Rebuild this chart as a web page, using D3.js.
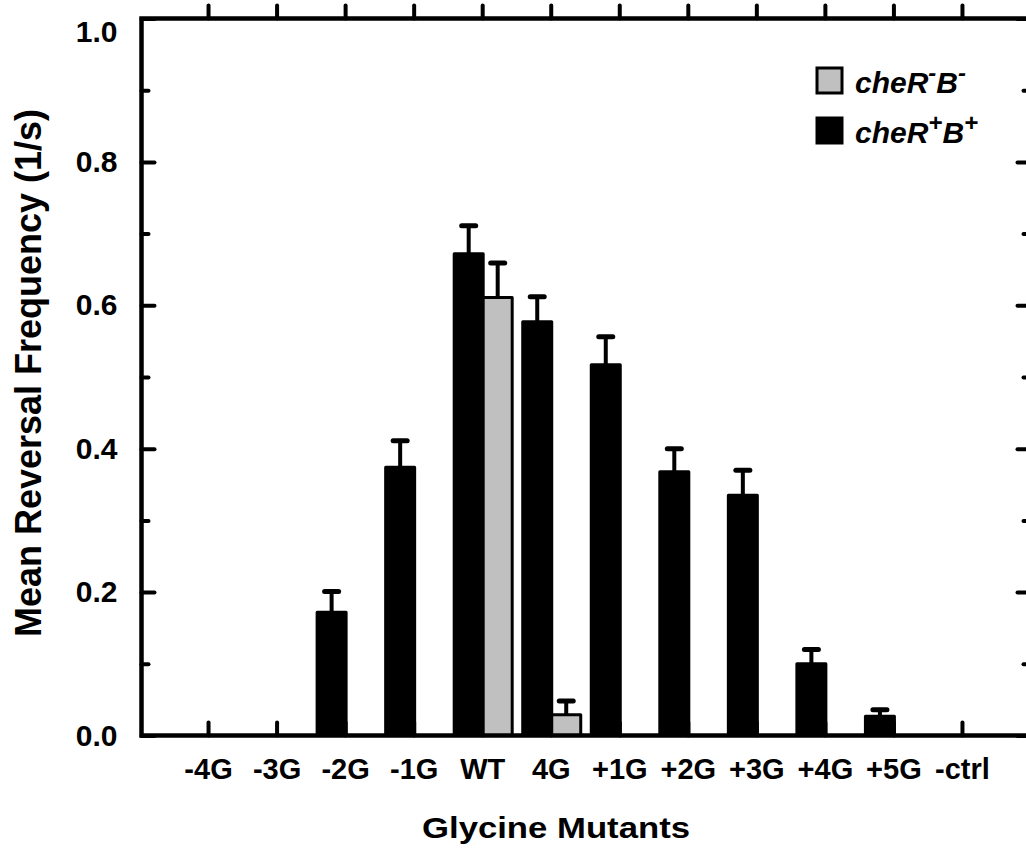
<!DOCTYPE html>
<html>
<head>
<meta charset="utf-8">
<script src="https://d3js.org/d3.v7.min.js"></script>
<style>
    body { margin: 0; background: #fff; }
    text { font-family: "Liberation Sans", Arial, sans-serif; font-weight: bold; }
</style>
</head>
<body>
<script>
// glycine mutants, two strains
const categories = ["-4G", "-3G", "-2G", "-1G", "WT", "4G", "+1G", "+2G", "+3G", "+4G", "+5G", "-ctrl"];

// cheR+B+ (black)
const plusValues = [null, null, 0.172, 0.374, 0.672, 0.577, 0.517, 0.368, 0.335, 0.100, 0.027, null];
const plusErrors = [null, null, 0.029, 0.037, 0.039, 0.035, 0.039, 0.032, 0.035, 0.020, 0.009, null];

// cheR-B- (gray)
const minusValues = [null, null, null, null, 0.611, 0.029, null, null, null, null, null, null];
const minusErrors = [null, null, null, null, 0.048, 0.019, null, null, null, null, null, null];

const seriesNames = ["plus", "minus"];
const seriesColor = {plus: "#000000", minus: "#c0c0c0"};

const yTicks = [0, 0.2, 0.4, 0.6, 0.8, 1.0];
const yMinorTicks = [0.1, 0.3, 0.5, 0.7, 0.9];

let width = 1026;
let height = 849;
let plotLeft = 141.5, plotRight = 1030.5, plotTop = 18.5, plotBottom = 735.5;

let svg = d3.select("body")
    .append("svg")
    .attr("width", width)
    .attr("height", height);

let x = d3.scalePoint()
    .domain(categories)
    .range([plotLeft - 2, plotRight])
    .padding(1);

let xSeries = d3.scaleBand()
    .domain(seriesNames)
    .range([-28, 30]);

let y = d3.scaleLinear()
    .domain([0, 1])
    .range([plotBottom, plotTop]);

function styleTicks(g) {
    g.select(".domain").remove();
    g.selectAll(".tick line")
        .attr("stroke", "#000")
        .attr("stroke-width", 4)
        .attr("stroke-linecap", "round");
}

// left axis, ticks point inwards
svg.append("g")
    .attr("transform", "translate(" + plotLeft + ",0)")
    .call(d3.axisLeft(y).tickValues(yTicks).tickSizeInner(-13).tickSizeOuter(0)
        .tickPadding(24).tickFormat(d3.format(".1f")))
    .call(styleTicks)
    .call(g => g.selectAll("text").attr("font-size", 30).attr("fill", "#000"))
    .call(g => g.selectAll(".tick").filter(d => d === 1).select("text").attr("dy", "0.75em"));

svg.append("g")
    .attr("transform", "translate(" + plotLeft + ",0)")
    .call(d3.axisLeft(y).tickValues(yMinorTicks).tickSizeInner(-7).tickSizeOuter(0).tickFormat(""))
    .call(styleTicks);

// right axis
svg.append("g")
    .attr("transform", "translate(" + plotRight + ",0)")
    .call(d3.axisRight(y).tickValues(yTicks).tickSizeInner(-13).tickSizeOuter(0).tickFormat(""))
    .call(styleTicks);

svg.append("g")
    .attr("transform", "translate(" + plotRight + ",0)")
    .call(d3.axisRight(y).tickValues(yMinorTicks).tickSizeInner(-7).tickSizeOuter(0).tickFormat(""))
    .call(styleTicks);

// top axis
svg.append("g")
    .attr("transform", "translate(0," + plotTop + ")")
    .call(d3.axisBottom(x).tickSizeInner(-13).tickSizeOuter(0).tickFormat(""))
    .call(styleTicks);

// bottom axis with category labels
svg.append("g")
    .attr("transform", "translate(0," + plotBottom + ")")
    .call(d3.axisBottom(x).tickSizeInner(-13).tickSizeOuter(0).tickPadding(23))
    .call(styleTicks)
    .call(g => g.selectAll("text").attr("font-size", 29).attr("fill", "#000"));

// bars
let rows = [];
categories.forEach((c, i) => {
    if (plusValues[i] !== null) rows.push({cat: c, s: "plus", v: plusValues[i], e: plusErrors[i]});
    if (minusValues[i] !== null) rows.push({cat: c, s: "minus", v: minusValues[i], e: minusErrors[i]});
});

let cx = d => x(d.cat) + xSeries(d.s) + xSeries.bandwidth() / 2;

// error bars (upper only)
let err = svg.append("g")
    .attr("stroke", "#000")
    .attr("stroke-linecap", "round");

err.selectAll(".stem")
    .data(rows)
    .enter()
    .append("line")
    .attr("stroke-width", 4)
    .attr("x1", cx)
    .attr("x2", cx)
    .attr("y1", d => y(d.v))
    .attr("y2", d => y(d.v + d.e));

err.selectAll(".cap")
    .data(rows)
    .enter()
    .append("line")
    .attr("stroke-width", 5)
    .attr("x1", d => cx(d) - 7)
    .attr("x2", d => cx(d) + 7)
    .attr("y1", d => y(d.v + d.e))
    .attr("y2", d => y(d.v + d.e));

svg.append("g")
    .selectAll("rect")
    .data(rows)
    .enter()
    .append("rect")
    .attr("x", d => x(d.cat) + xSeries(d.s))
    .attr("y", d => y(d.v))
    .attr("width", xSeries.bandwidth())
    .attr("height", d => y(0) - y(d.v))
    .attr("fill", d => seriesColor[d.s])
    .attr("stroke", "#000")
    .attr("stroke-width", 3)
    .attr("stroke-linejoin", "round");

// frame
svg.append("rect")
    .attr("x", plotLeft)
    .attr("y", plotTop)
    .attr("width", plotRight - plotLeft)
    .attr("height", plotBottom - plotTop)
    .attr("fill", "none")
    .attr("stroke", "#000")
    .attr("stroke-width", 4.5);

// axis titles
svg.append("text")
    .attr("x", 422)
    .attr("y", 838)
    .attr("font-size", 30)
    .attr("textLength", 268)
    .attr("lengthAdjust", "spacingAndGlyphs")
    .text("Glycine Mutants");

svg.append("text")
    .attr("transform", "translate(41," + ((plotTop + plotBottom) / 2 - 4) + ") rotate(-90)")
    .attr("text-anchor", "middle")
    .attr("font-size", 36)
    .text("Mean Reversal Frequency (1/s)");

// legend
let legend = svg.append("g").attr("transform", "translate(817,68)");
let legendItems = [
    {s: "minus", sup: "-"},
    {s: "plus", sup: "+"}
];

legendItems.forEach((item, i) => {
    let g = legend.append("g").attr("transform", "translate(0," + i * 50 + ")");
    g.append("rect")
        .attr("width", 25)
        .attr("height", 25)
        .attr("fill", seriesColor[item.s])
        .attr("stroke", "#000")
        .attr("stroke-width", 3);
    let t = g.append("text")
        .attr("x", 38)
        .attr("y", 25)
        .attr("font-size", 30)
        .attr("font-style", "italic");
    t.append("tspan").text("cheR");
    t.append("tspan").attr("dy", -12).attr("font-size", 24).text(item.sup);
    t.append("tspan").attr("dy", 12).text("B");
    t.append("tspan").attr("dy", -12).attr("font-size", 24).text(item.sup);
});
</script>
</body>
</html>
